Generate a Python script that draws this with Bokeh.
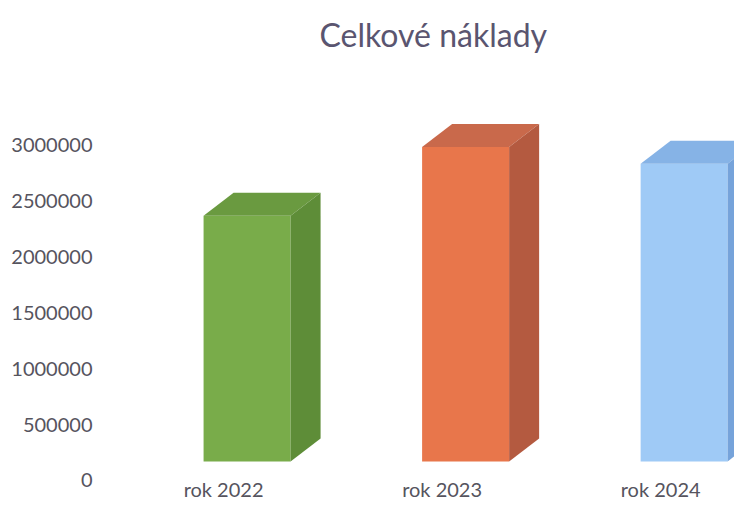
from bokeh.plotting import figure
from bokeh.models import FixedTicker, Range1d, Title, Spacer
from bokeh.layouts import row
from bokeh.embed import file_html
from bokeh.resources import INLINE

# ---- data ----
categories = ["rok 2022", "rok 2023", "rok 2024"]
costs = [2195000, 2810000, 2660000]
y_ticks = [0, 500000, 1000000, 1500000, 2000000, 2500000, 3000000]

# ---- style (3D projection look) ----
front_colors = ["#79ac4a", "#e8764b", "#9fcaf6"]
top_colors = ["#6a9a40", "#c9694b", "#86b3e6"]
side_colors = ["#5e8d38", "#b45a40", "#76a3da"]

PX_X = 218.5            # pixels per category unit
PX_Y = 111.67 / 1e6     # pixels per value unit
off_x = 23.5 / PX_X     # front face offset from axis front edge
off_y = 19 / PX_Y
dep_x = 30 / PX_X       # bar depth (projection)
dep_y = 23 / PX_Y
half_w = 43.5 / PX_X

xpos = [i + 1 for i in range(len(categories))]

p = figure(width=726, height=503, output_backend="svg", toolbar_location=None,
           x_range=Range1d(0.478, 3.338), y_range=Range1d(-53700, 3663000),
           min_border_left=0, min_border_right=0, min_border_top=0, min_border_bottom=0)
p.outline_line_color = None
p.background_fill_color = "white"
p.xgrid.grid_line_color = None
p.ygrid.grid_line_color = None

fx = [x + off_x for x in xpos]
p.vbar(x=fx, bottom=off_y, top=[v + off_y for v in costs], width=2 * half_w,
       fill_color=front_colors, line_color=None)

top_xs, top_ys, side_xs, side_ys = [], [], [], []
for x, v in zip(fx, costs):
    xl, xr = x - half_w, x + half_w
    t = v + off_y
    top_xs.append([xl, xr, xr + dep_x, xl + dep_x])
    top_ys.append([t, t, t + dep_y, t + dep_y])
    side_xs.append([xr, xr + dep_x, xr + dep_x, xr])
    side_ys.append([off_y, off_y + dep_y, t + dep_y, t])
p.patches(top_xs, top_ys, fill_color=top_colors, line_color=None)
p.patches(side_xs, side_ys, fill_color=side_colors, line_color=None)

label_color = "#56545e"
font = "Lato"

for ax in (p.xaxis, p.yaxis):
    ax.axis_line_color = None
    ax.major_tick_line_color = None
    ax.minor_tick_line_color = None
    ax.major_tick_out = 0
    ax.major_tick_in = 0
    ax.minor_tick_out = 0
    ax.minor_tick_in = 0
    ax.axis_label_standoff = 0
    ax.major_label_text_font = font
    ax.major_label_text_font_size = "20px"
    ax.major_label_text_color = label_color

p.yaxis.ticker = FixedTicker(ticks=y_ticks)
p.yaxis.major_label_overrides = {t: str(t) for t in y_ticks}
p.yaxis.major_label_standoff = 17

p.xaxis.ticker = FixedTicker(ticks=xpos)
p.xaxis.major_label_overrides = {x: c for x, c in zip(xpos, categories)}
p.xaxis.major_label_standoff = -10

p.add_layout(Title(text="Celkové náklady", align="left", text_font=font,
                   text_font_size="32px", text_font_style="normal",
                   vertical_align="top",
                   text_color="#5a5570", standoff=29, offset=210), "above")

layout = row(Spacer(width=8, height=503), p)
open("out.html", "w").write(file_html(layout, INLINE))
